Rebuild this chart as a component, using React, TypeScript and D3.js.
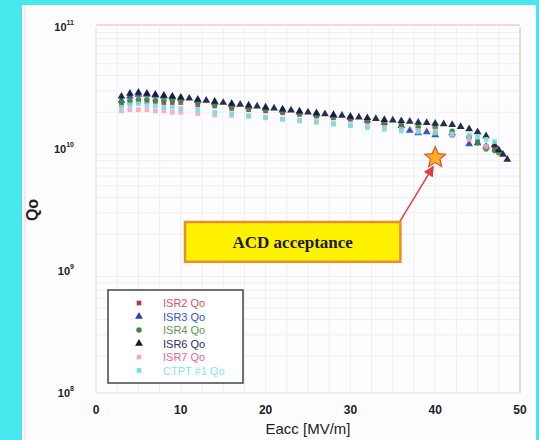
import * as d3 from 'd3';
import React from 'react';

// Qo vs Eacc, values in units of 1e10
const isr2E = [3, 4, 5, 6, 7, 8, 9, 10, 12, 14, 16, 18, 20, 22, 24, 26, 28, 30, 32, 34, 36, 38, 40, 42, 44, 45, 46, 47];
const isr2Q = [2.3, 2.4, 2.45, 2.45, 2.45, 2.4, 2.4, 2.4, 2.3, 2.25, 2.15, 2.1, 2.05, 1.98, 1.92, 1.86, 1.8, 1.75, 1.68, 1.6, 1.52, 1.45, 1.35, 1.3, 1.25, 1.15, 1.05, 1.0];

const isr3E = [3, 4, 5, 6, 7, 8, 9, 10, 12, 14, 16, 18, 20, 22, 24, 26, 28, 30, 32, 34, 36, 37, 38, 39, 40, 42, 44, 45, 46];
const isr3Q = [2.5, 2.7, 2.8, 2.8, 2.75, 2.7, 2.65, 2.6, 2.5, 2.4, 2.3, 2.22, 2.15, 2.08, 2.0, 1.93, 1.87, 1.8, 1.72, 1.65, 1.55, 1.42, 1.35, 1.38, 1.3, 1.35, 1.1, 1.12, 1.05];

const isr4E = [3, 4, 5, 6, 7, 8, 9, 10, 12, 14, 16, 18, 20, 22, 24, 26, 28, 30, 32, 34, 36, 38, 40, 42, 44, 45, 46, 47, 47.5];
const isr4Q = [2.4, 2.5, 2.55, 2.55, 2.5, 2.5, 2.5, 2.5, 2.4, 2.3, 2.2, 2.15, 2.1, 2.02, 1.95, 1.88, 1.83, 1.8, 1.72, 1.65, 1.58, 1.52, 1.5, 1.4, 1.25, 1.12, 1.0, 0.97, 0.93];

const isr6E = [3, 4, 5, 6, 7, 8, 9, 10, 11, 12, 13, 14, 15, 16, 17, 18, 19, 20, 21, 22, 23, 24, 25, 26, 27, 28, 29, 30, 31, 32, 33, 34, 35, 36, 37, 38, 39, 40, 41, 42, 43, 44, 45, 46, 47, 47.5, 48, 48.5];
const isr6Q = [2.7, 2.85, 2.9, 2.85, 2.8, 2.75, 2.7, 2.65, 2.6, 2.55, 2.5, 2.45, 2.4, 2.36, 2.32, 2.28, 2.24, 2.2, 2.16, 2.12, 2.08, 2.04, 2.0, 1.97, 1.94, 1.91, 1.88, 1.85, 1.82, 1.8, 1.77, 1.74, 1.72, 1.7, 1.68, 1.65, 1.64, 1.62, 1.6, 1.58, 1.52, 1.46, 1.38, 1.28, 1.08, 0.98, 0.9, 0.82];

const isr7E = [3, 4, 5, 6, 7, 8, 9, 10, 12, 14, 16, 18, 20, 22, 24, 26, 28, 30, 32, 34, 36, 38, 40, 42, 44, 46];
const isr7Q = [2.05, 2.1, 2.1, 2.1, 2.05, 2.05, 2.0, 2.0, 1.95, 1.9, 1.88, 1.85, 1.8, 1.75, 1.72, 1.68, 1.62, 1.58, 1.55, 1.5, 1.45, 1.42, 1.4, 1.32, 1.2, 1.05];

const cyanE = [3, 4, 5, 6, 7, 8, 9, 10, 12, 14, 16, 18, 20, 22, 24, 26, 28, 30, 32, 34, 36, 38, 40, 42, 44, 45, 46, 47];
const cyanQ = [2.2, 2.3, 2.35, 2.3, 2.25, 2.2, 2.2, 2.15, 2.1, 2.0, 1.95, 1.88, 1.82, 1.76, 1.7, 1.65, 1.6, 1.55, 1.5, 1.45, 1.4, 1.38, 1.35, 1.33, 1.3, 1.25, 1.2, 1.15];

const seriesNames = ['ISR2 Qo', 'ISR3 Qo', 'ISR4 Qo', 'ISR6 Qo', 'ISR7 Qo', 'CTPT #1 Qo'];
const seriesColors = ['#c0304a', '#2a3fb8', '#3f8a3a', '#10163a', '#f4a6c8', '#6fe0e6'];
const seriesTextColors = ['#e0506a', '#3a50d0', '#5a9a50', '#2a2f60', '#f060a0', '#80e8ec'];
const seriesShapes = ['square', 'triangle', 'circle', 'triangle', 'square', 'square'];
const seriesE = [isr2E, isr3E, isr4E, isr6E, isr7E, cyanE];
const seriesQ = [isr2Q, isr3Q, isr4Q, isr6Q, isr7Q, cyanQ];

const xTicks = [0, 10, 20, 30, 40, 50];
const yExps = [8, 9, 10, 11];

const acdE = 40;
const acdQ = 0.85;
const acdLabel = 'ACD acceptance';

const W = 539, H = 440;
const margin = { left: 96, right: 19, top: 27, bottom: 47 };

function symbolFor(shape: string) {
  if (shape === 'triangle') return d3.symbol(d3.symbolTriangle, 26)();
  if (shape === 'circle') return d3.symbol(d3.symbolCircle, 24)();
  return d3.symbol(d3.symbolSquare, 22)();
}

export default function App() {
  const x = d3.scaleLinear().domain([0, 50]).range([margin.left, W - margin.right]);
  const y = d3.scaleLog().domain([1e8, 1e11]).range([H - margin.bottom, margin.top]);

  const minorY: number[] = [];
  for (let e = 8; e < 11; e++) for (let m = 2; m <= 9; m++) minorY.push(m * Math.pow(10, e));
  const minorX = d3.range(0, 51, 2.5);

  const star = d3.range(10).map(i => {
    const r = i % 2 === 0 ? 11 : 5;
    const a = -Math.PI / 2 + (i * Math.PI) / 5;
    return [r * Math.cos(a), r * Math.sin(a)];
  });
  const starPath = 'M' + star.map(p => p.join(',')).join('L') + 'Z';

  const sx = x(acdE), sy = y(acdQ * 1e10);
  const boxX0 = x(10.5), boxX1 = x(35.9);
  const boxY0 = y(2.52e9), boxY1 = y(1.19e9);
  const ax0 = x(35.6), ay0 = y(2.4e9);

  return (
    <svg width={W} height={H} style={{ position: 'absolute', left: 0, top: 0 }}>
      <defs>
        <marker id="arr" viewBox="0 0 10 10" refX="9" refY="5" markerWidth="7" markerHeight="7" orient="auto">
          <path d="M0,0L10,5L0,10Z" fill="#e04040" />
        </marker>
      </defs>
      <rect width={W} height={H} fill="#48e8ee" />
      <rect x={22} y={5} width={W - 25} height={H - 5} fill="#fdfcfe" />
      <line x1={25} x2={25} y1={5} y2={H} stroke="#fbe6ee" strokeWidth={2} />
      {/* grid */}
      {minorX.map(v => (
        <line key={'gx' + v} x1={x(v)} x2={x(v)} y1={margin.top} y2={H - margin.bottom} stroke="#eeeef6" />
      ))}
      {minorY.map(v => (
        <line key={'gy' + v} x1={margin.left} x2={W - margin.right} y1={y(v)} y2={y(v)} stroke="#efeff5" />
      ))}
      <line x1={margin.left} x2={W - margin.right} y1={margin.top - 2} y2={margin.top - 2} stroke="#f6d4e0" strokeWidth={2} />
      <line x1={W - margin.right} x2={W - margin.right} y1={margin.top} y2={H - margin.bottom} stroke="#e8dccc" strokeWidth={2} />
      <line x1={margin.left} x2={margin.left} y1={margin.top} y2={H - margin.bottom} stroke="#e6e6ee" />
      <line x1={margin.left} x2={W - margin.right} y1={H - margin.bottom} y2={H - margin.bottom} stroke="#e0e0e8" />
      {/* ticks */}
      {xTicks.map(t => (
        <text key={'xt' + t} x={x(t)} y={H - margin.bottom + 21} textAnchor="middle" fontFamily="Liberation Sans, Arial" fontWeight="bold" fontSize={12} fill="#222">{t}</text>
      ))}
      {yExps.map(e => (
        <text key={'yt' + e} x={margin.left - 22} y={y(Math.pow(10, e)) + 4} textAnchor="end" fontFamily="Liberation Sans, Arial" fontWeight="bold" fontSize={11} fill="#222">
          10<tspan dy={-6} fontSize={7}>{e}</tspan>
        </text>
      ))}
      <text x={x(25)} y={H - 6} textAnchor="middle" fontFamily="Liberation Sans, Arial" fontSize={15} fill="#222">Eacc [MV/m]</text>
      <text transform={`translate(38,${(margin.top + H - margin.bottom) / 2}) rotate(-90)`} textAnchor="middle" fontFamily="Liberation Sans, Arial" fontWeight="bold" fontSize={16} fill="#222">Qo</text>
      {/* data */}
      {seriesE.map((es, si) => (
        <g key={'s' + si}>
          {es.map((e, i) => (
            <path key={i} d={symbolFor(seriesShapes[si])} transform={`translate(${x(e)},${y(seriesQ[si][i] * 1e10)})`} fill={seriesColors[si]} opacity={0.9} />
          ))}
        </g>
      ))}
      {/* annotation */}
      <line x1={ax0} y1={ay0} x2={sx - 2} y2={sy + 9} stroke="#e04040" strokeWidth={1.5} markerEnd="url(#arr)" />
      <path d={starPath} transform={`translate(${sx},${sy})`} fill="#ffb020" stroke="#e05030" strokeWidth={1.2} />
      <rect x={boxX0} y={boxY0} width={boxX1 - boxX0} height={boxY1 - boxY0} fill="#fff200" stroke="#e8902a" strokeWidth={2.5} />
      <text x={(boxX0 + boxX1) / 2} y={(boxY0 + boxY1) / 2 + 6} textAnchor="middle" fontFamily="Liberation Serif, Times New Roman" fontWeight="bold" fontSize={17} fill="#1a1a1a">{acdLabel}</text>
      {/* legend */}
      <g transform="translate(108,290)">
        <rect width={135} height={93} fill="#fff" stroke="#444" strokeWidth={1.5} />
        {seriesNames.map((n, i) => (
          <g key={'l' + i} transform={`translate(0,${13 + i * 13.5})`}>
            <path d={symbolFor(seriesShapes[i])} transform="translate(31,0)" fill={seriesColors[i]} />
            <text x={55} y={4} fontFamily="Liberation Sans, Arial" fontSize={11} fill={seriesTextColors[i]}>{n}</text>
          </g>
        ))}
      </g>
    </svg>
  );
}
